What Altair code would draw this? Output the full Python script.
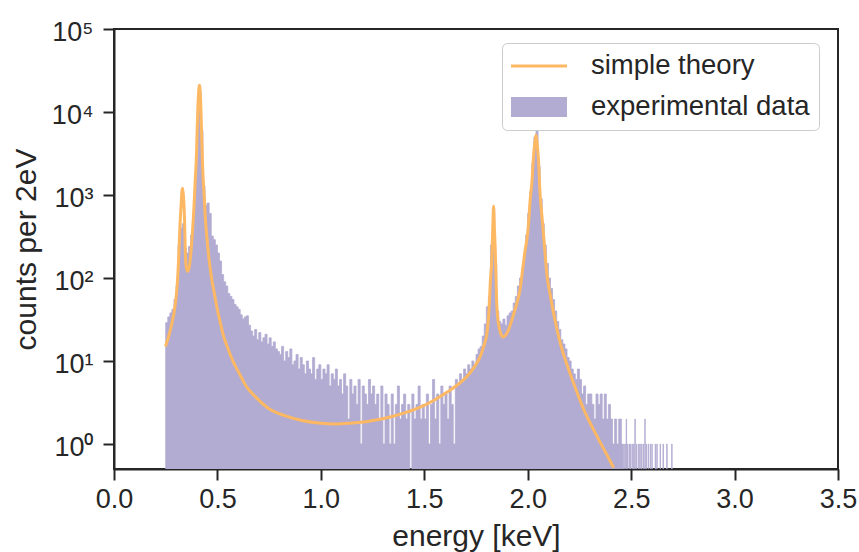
import altair as alt
import pandas as pd

# ---- experimental histogram (counts per 2 eV) ----
bin_start = 0.25      # keV, left edge of first coarse bin
bin_width = 0.01      # keV
counts = [
    29, 34, 38, 42, 55, 80, 250, 400, 450, 230,          # 0.25-0.34
    200, 240, 330, 550, 1800, 8000, 18000, 6000, 1300, 750,  # 0.35-0.44
    800, 600, 320, 290, 250, 200, 160, 110, 90, 80,      # 0.45-0.54
    65, 60, 55, 48, 45, 42, 36, 32, 34, 35,              # 0.55-0.64
    27, 23, 20, 24, 18, 22, 17, 19, 21, 16,              # 0.65-0.74
    19, 15, 17, 14, 13, 12, 15, 10, 13, 11,              # 0.75-0.84
    14, 9, 10, 12, 8, 11, 9, 7, 10, 8,                   # 0.85-0.94
    7, 11, 6, 8, 9, 6, 8, 7, 9, 5,                       # 0.95-1.04
    7, 6, 8, 5, 6, 4, 7, 5, 2, 6,                        # 1.05-1.14
    4, 5, 3, 6, 1, 5, 4, 3, 6, 4,                        # 1.15-1.24
    5, 3, 4, 2, 5, 1, 4, 3, 1, 4,                        # 1.25-1.34
    1, 3, 5, 2, 3, 4, 2, 3, 0, 4,                        # 1.35-1.44
    2, 3, 5, 2, 3, 2, 4, 1, 3, 6,                        # 1.45-1.54
    2, 4, 1, 5, 3, 4, 2, 5, 3, 1,                        # 1.55-1.64
    6, 5, 7, 6, 8, 7, 9, 8, 10, 9,                       # 1.65-1.74
    12, 14, 15, 20, 28, 45, 60, 250, 700, 150,           # 1.75-1.84
    40, 30, 28, 32, 27, 35, 38, 40, 50, 60,              # 1.85-1.94
    80, 100, 130, 200, 330, 600, 1100, 2400, 5000, 6300, # 1.95-2.04
    2200, 900, 450, 250, 150, 100, 75, 55, 40, 30,       # 2.05-2.14
    24, 18, 16, 14, 11, 10, 8, 7, 6, 8,                  # 2.15-2.24
    6, 4, 5, 3, 4, 4, 3, 2, 4, 3,                        # 2.25-2.34
    4, 2, 4, 2, 3, 2, 1, 2, 1, 2,                        # 2.35-2.44
]
# sparse high-energy tail, individual 2 eV bins
tail_width = 0.002
tail_energy = [2.450, 2.454, 2.458, 2.464, 2.470, 2.476, 2.482, 2.490, 2.496,
               2.504, 2.512, 2.518, 2.526, 2.536, 2.542, 2.550, 2.558, 2.566,
               2.572, 2.582, 2.592, 2.600, 2.616, 2.624, 2.640, 2.654, 2.672, 2.696]
tail_counts = [2, 1, 1, 1, 1, 2, 1, 1, 1, 1, 1, 2, 1, 1, 1, 1, 1, 2,
               1, 1, 1, 1, 1, 1, 1, 1, 1, 1]

# ---- simple theory curve ----
theory_energy = [0.249, 0.273, 0.297, 0.305, 0.313, 0.318, 0.325, 0.329, 0.332, 0.336,
                 0.341, 0.344, 0.347, 0.354, 0.361, 0.373, 0.379, 0.386, 0.392, 0.399,
                 0.403, 0.408, 0.413, 0.418, 0.423, 0.429, 0.436, 0.442, 0.450, 0.458,
                 0.469, 0.482, 0.498, 0.514, 0.530, 0.547, 0.579, 0.611, 0.636, 0.684,
                 0.746, 0.829, 0.909, 0.989, 1.070, 1.150, 1.215, 1.255, 1.336, 1.416,
                 1.481, 1.545, 1.609, 1.658, 1.706, 1.738, 1.771, 1.787, 1.803, 1.813,
                 1.819, 1.827, 1.831, 1.835, 1.839, 1.843, 1.851, 1.864, 1.880, 1.900,
                 1.931, 1.948, 1.964, 1.976, 1.988, 1.996, 2.004, 2.012, 2.020, 2.028,
                 2.034, 2.040, 2.046, 2.051, 2.060, 2.069, 2.080, 2.093, 2.109, 2.125,
                 2.140, 2.157, 2.190, 2.222, 2.254, 2.286, 2.318, 2.351, 2.383, 2.415]
theory_counts = [15, 24, 50, 79, 183, 380, 800, 1150, 1210, 960,
                 505, 240, 153, 120, 126, 220, 350, 670, 1390, 3220,
                 7400, 15500, 21000, 15500, 6160, 2000, 960, 505, 290, 183,
                 110, 72, 43.6, 29, 19.8, 15, 9.5, 6.7, 5.1, 3.7,
                 2.7, 2.18, 1.92, 1.79, 1.74, 1.79, 1.85, 1.93, 2.12, 2.42,
                 2.78, 3.35, 4.2, 5.1, 6.5, 8.2, 11.4, 15, 21.7, 41,
                 87, 183, 400, 730, 400, 220, 45, 24, 19.4, 21.7,
                 36, 50, 75, 130, 220, 290, 450, 880, 1400, 2900,
                 4200, 5300, 4000, 2900, 1000, 550, 260, 110, 62, 38,
                 25, 16.5, 9, 5.4, 3.3, 2.15, 1.5, 1.04, 0.74, 0.52]

series_names = ["simple theory", "experimental data"]
series_colors = ["#fdb863", "#b2abd2"]
x_ticks = [0.0, 0.5, 1.0, 1.5, 2.0, 2.5, 3.0, 3.5]
y_ticks = [1, 10, 100, 1000, 10000, 100000]
y_floor = 0.5

# ---- tables: histogram as step outlines, one group per run of non-empty bins ----
rows = []
seg = 0
run = []


def close_run(run, seg, width):
    out = [{"E": e, "n": c, "seg": seg} for e, c in run]
    last_e, last_c = run[-1]
    out.append({"E": round(last_e + width, 4), "n": last_c, "seg": seg})
    return out


for i, c in enumerate(counts):
    e0 = round(bin_start + i * bin_width, 4)
    if c > 0:
        run.append((e0, c))
    elif run:
        rows += close_run(run, seg, bin_width)
        seg += 1
        run = []
if run:
    rows += close_run(run, seg, bin_width)
    seg += 1
for e, c in zip(tail_energy, tail_counts):
    rows += close_run([(e, c)], seg, tail_width)
    seg += 1

hist = pd.DataFrame(rows)
theory = pd.DataFrame({"E": theory_energy, "n": theory_counts})
legend_df = pd.DataFrame({"series": series_names})

FONT = "Liberation Sans"
INK = "#262626"

xscale = alt.Scale(domain=[0, 3.5], nice=False, zero=False)
yscale = alt.Scale(type="log", domain=[y_floor, 100000], nice=False)

x_axis = alt.Axis(values=x_ticks, format=".1f", labelFlush=False, grid=False,
                  tickSize=11, tickWidth=2, tickColor=INK, domainWidth=2, domainColor=INK,
                  labelFontSize=27, labelColor=INK, labelPadding=6,
                  titleFontSize=30, titleColor=INK, titlePadding=9, titleFontWeight="normal")
y_axis = alt.Axis(values=y_ticks, grid=False,
                  labelExpr="'10' + ['⁰','¹','²','³','⁴','⁵'][round(log(datum.value)/LN10)]",
                  tickSize=11, tickWidth=2, tickColor=INK, domainWidth=2, domainColor=INK,
                  labelFontSize=27, labelColor=INK, labelPadding=10, labelOffset=3,
                  titleFontSize=30, titleColor=INK, titlePadding=10, titleFontWeight="normal")

hist_area = alt.Chart(hist).mark_area(
    color=series_colors[1], stroke=series_colors[1], strokeWidth=0.8,
    interpolate="step-after", clip=True, opacity=1
).encode(
    x=alt.X("E:Q", scale=xscale, axis=x_axis, title="energy [keV]"),
    y=alt.Y("n:Q", scale=yscale, axis=y_axis, title="counts per 2eV"),
    y2=alt.datum(y_floor),
    detail="seg:N",
)

line = alt.Chart(theory).mark_line(
    color=series_colors[0], strokeWidth=3, clip=True, interpolate="monotone"
).encode(
    x=alt.X("E:Q", scale=xscale),
    y=alt.Y("n:Q", scale=yscale),
)

legend_props = dict(
    title=None, orient="none", legendX=388, legendY=14, padding=9,
    fillColor="white", strokeColor="#cccccc", cornerRadius=5,
    labelFontSize=27.5, labelFont=FONT, labelColor=INK, labelOffset=52, labelLimit=500,
    symbolSize=784, symbolStrokeWidth=0, symbolOpacity=1, rowPadding=13,
)
shape_paths = ["M-1,-0.1L3,-0.1L3,0.1L-1,0.1Z",
               "M-1,-0.72L3,-0.72L3,0.72L-1,0.72Z"]

legend_layer = alt.Chart(legend_df).mark_point(filled=True, opacity=1).encode(
    color=alt.Color("series:N", scale=alt.Scale(domain=series_names, range=series_colors),
                    legend=alt.Legend(**legend_props)),
    shape=alt.Shape("series:N", scale=alt.Scale(domain=series_names, range=shape_paths),
                    legend=alt.Legend(**legend_props)),
).transform_filter("false")

chart = alt.layer(hist_area, line, legend_layer).properties(
    width=724, height=440,
    autosize=alt.AutoSizeParams(type="none"),
    padding={"left": 114, "top": 29, "right": 21, "bottom": 83},
).configure(font=FONT).configure_view(stroke=INK, strokeWidth=2)

chart.save("out.html", embed_options={"renderer": "svg", "actions": False})
